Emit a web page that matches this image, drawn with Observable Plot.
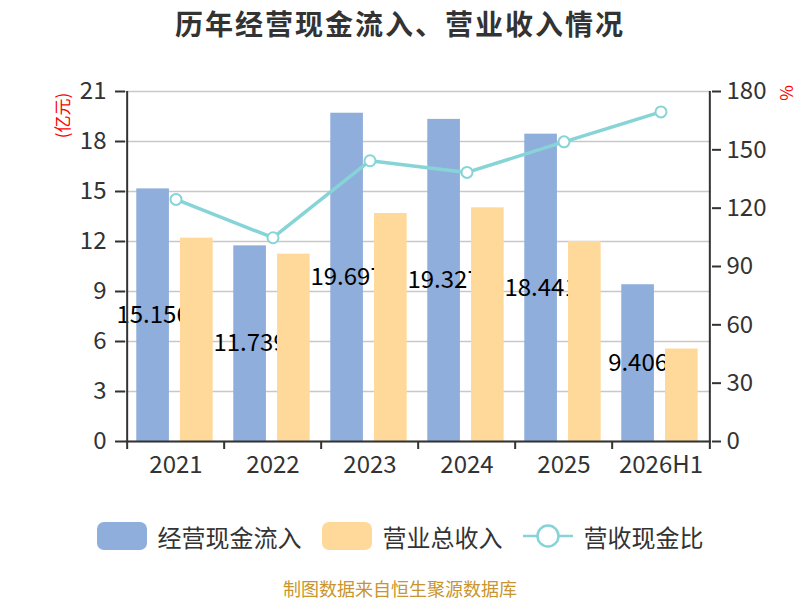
<!DOCTYPE html>
<html>
<head>
<meta charset="utf-8">
<script src="https://cdn.jsdelivr.net/npm/d3@7"></script>
<script src="https://cdn.jsdelivr.net/npm/@observablehq/plot@0.6"></script>
<style>
  html, body { margin: 0; padding: 0; background: #fff; }
  #wrap { position: relative; width: 800px; height: 600px; font-family: "Noto Sans CJK SC", "Noto Sans", sans-serif; color: #333; }
  #title { position: absolute; left: 0; top: 3px; width: 800px; text-align: center; font-size: 28px; letter-spacing: 2px; font-weight: bold; color: #333; line-height: 40px; }
  #chart { position: absolute; left: 0; top: 60px; }
  #legend { position: absolute; left: 0; top: 518px; width: 800px; height: 36px; display: flex; justify-content: center; align-items: center; font-size: 24px; color: #333; }
  .sw { width: 50px; height: 28px; border-radius: 7px; margin-right: 11px; }
  .item { display: flex; align-items: center; margin-right: 20px; }
  .item:last-child { margin-right: 0; }
  #caption { position: absolute; left: 0; top: 575px; width: 800px; text-align: center; font-size: 18px; color: #C8952E; line-height: 26px; }
</style>
</head>
<body>
<div id="wrap">
  <div id="title">历年经营现金流入、营业收入情况</div>
  <div id="chart"></div>
  <div id="legend"></div>
  <div id="caption">制图数据来自恒生聚源数据库</div>
</div>
<script>
const years = ["2021", "2022", "2023", "2024", "2025", "2026H1"];
const cashInflow = [15.156, 11.739, 19.697, 19.327, 18.441, 9.406];
const cashLabels = ["15.156", "11.739", "19.697", "19.327", "18.441", "9.406"];
const revenue = [12.20, 11.24, 13.68, 14.02, 12.00, 5.55];
const ratio = [124.5, 104.8, 144.4, 138.4, 154.1, 169.5];
const leftTicks = [0, 3, 6, 9, 12, 15, 18, 21];
const rightTicks = [0, 30, 60, 90, 120, 150, 180];
const seriesNames = ["经营现金流入", "营业总收入", "营收现金比"];
const colors = ["#8FAEDB", "#FFD99A", "#86D4D7"];

const W = 800, H = 440, mL = 125, mR = 89, mT = 31, mB = 59;
const bw = (W - mL - mR) / years.length;
const barW = bw * 0.341;
const blueInsetL = bw * 0.095, blueInsetR = bw - blueInsetL - barW;
const orangeInsetR = bw * 0.116, orangeInsetL = bw - orangeInsetR - barW;
const labelDx = blueInsetL + barW / 2 - bw / 2;

const toLeft = d3.scaleLinear().domain([0, 180]).range([0, 21]);

const rows = years.map((y, i) => ({
  year: y, cash: cashInflow[i], rev: revenue[i], ratio: ratio[i], label: cashLabels[i]
}));

const chart = Plot.plot({
  width: W, height: H,
  marginLeft: mL, marginRight: mR, marginTop: mT, marginBottom: mB,
  style: { fontFamily: "'Noto Sans CJK SC', 'Noto Sans', sans-serif", fontSize: "24px", color: "#333", background: "transparent", overflow: "visible" },
  x: { domain: years, padding: 0, label: null },
  y: { domain: [0, 21], label: null },
  marks: [
    Plot.gridY(leftTicks, { stroke: "#c8c8c8", strokeOpacity: 1, strokeWidth: 1.5 }),
    Plot.barY(rows, { x: "year", y: "cash", fill: colors[0], insetLeft: blueInsetL, insetRight: blueInsetR }),
    Plot.text(rows, { x: "year", y: d => d.cash / 2, text: "label", dx: labelDx, fill: "#000", fontSize: 24 }),
    Plot.barY(rows, { x: "year", y: "rev", fill: colors[1], insetLeft: orangeInsetL, insetRight: orangeInsetR }),
    Plot.line(rows, { x: "year", y: d => toLeft(d.ratio), stroke: colors[2], strokeWidth: 3.5 }),
    Plot.dot(rows, { x: "year", y: d => toLeft(d.ratio), r: 5.5, fill: "#fff", stroke: colors[2], strokeWidth: 2 }),
    Plot.ruleY([0], { stroke: "#333", strokeWidth: 2 }),
    Plot.ruleX([years[0]], { x: d => d, dx: -bw / 2, y1: 0, y2: 21, stroke: "#333", strokeWidth: 2 }),
    Plot.ruleX([years[years.length - 1]], { x: d => d, dx: bw / 2, y1: 0, y2: 21, stroke: "#333", strokeWidth: 2 }),
    Plot.axisY({ ticks: leftTicks, tickSize: 10, tickPadding: 9, strokeWidth: 2, fill: "#333", label: null }),
    Plot.axisY({ anchor: "right", ticks: rightTicks.map(v => toLeft(v)), tickFormat: d => String(Math.round(toLeft.invert(d))), tickSize: 9, tickPadding: 6, strokeWidth: 2, fill: "#333", label: null }),
    Plot.axisX({ tickSize: 0, tickPadding: 14, fill: "#333", label: null }),
    Plot.axisX({ tickSize: 8, tickFormat: () => "", dx: -bw / 2, strokeWidth: 2, label: null }),
    Plot.axisX({ ticks: [years[years.length - 1]], tickSize: 8, tickFormat: () => "", dx: bw / 2, strokeWidth: 2, label: null }),
    Plot.text(["(亿元)"], { frameAnchor: "top-left", textAnchor: "middle", lineAnchor: "middle", dx: -62, dy: 24, rotate: -90, fill: "red", fontSize: 17 }),
    Plot.text(["%"], { frameAnchor: "top-right", textAnchor: "middle", lineAnchor: "middle", dx: 76.5, dy: 1.5, rotate: -90, fill: "red", fontSize: 17 })
  ]
});
document.getElementById("chart").appendChild(chart);

const legend = document.getElementById("legend");
seriesNames.forEach((name, i) => {
  const item = document.createElement("div");
  item.className = "item";
  if (i < 2) {
    const sw = document.createElement("div");
    sw.className = "sw";
    sw.style.background = colors[i];
    item.appendChild(sw);
  } else {
    const svgNS = "http://www.w3.org/2000/svg";
    const s = document.createElementNS(svgNS, "svg");
    s.setAttribute("width", "50"); s.setAttribute("height", "28");
    s.style.marginRight = "11px";
    s.innerHTML = `<line x1="0" y1="14" x2="50" y2="14" stroke="${colors[2]}" stroke-width="2.5"/><circle cx="25" cy="14" r="10.5" fill="#fff" stroke="${colors[2]}" stroke-width="2.5"/>`;
    item.appendChild(s);
  }
  const t = document.createElement("span");
  t.textContent = name;
  item.appendChild(t);
  legend.appendChild(item);
});
</script>
</body>
</html>
